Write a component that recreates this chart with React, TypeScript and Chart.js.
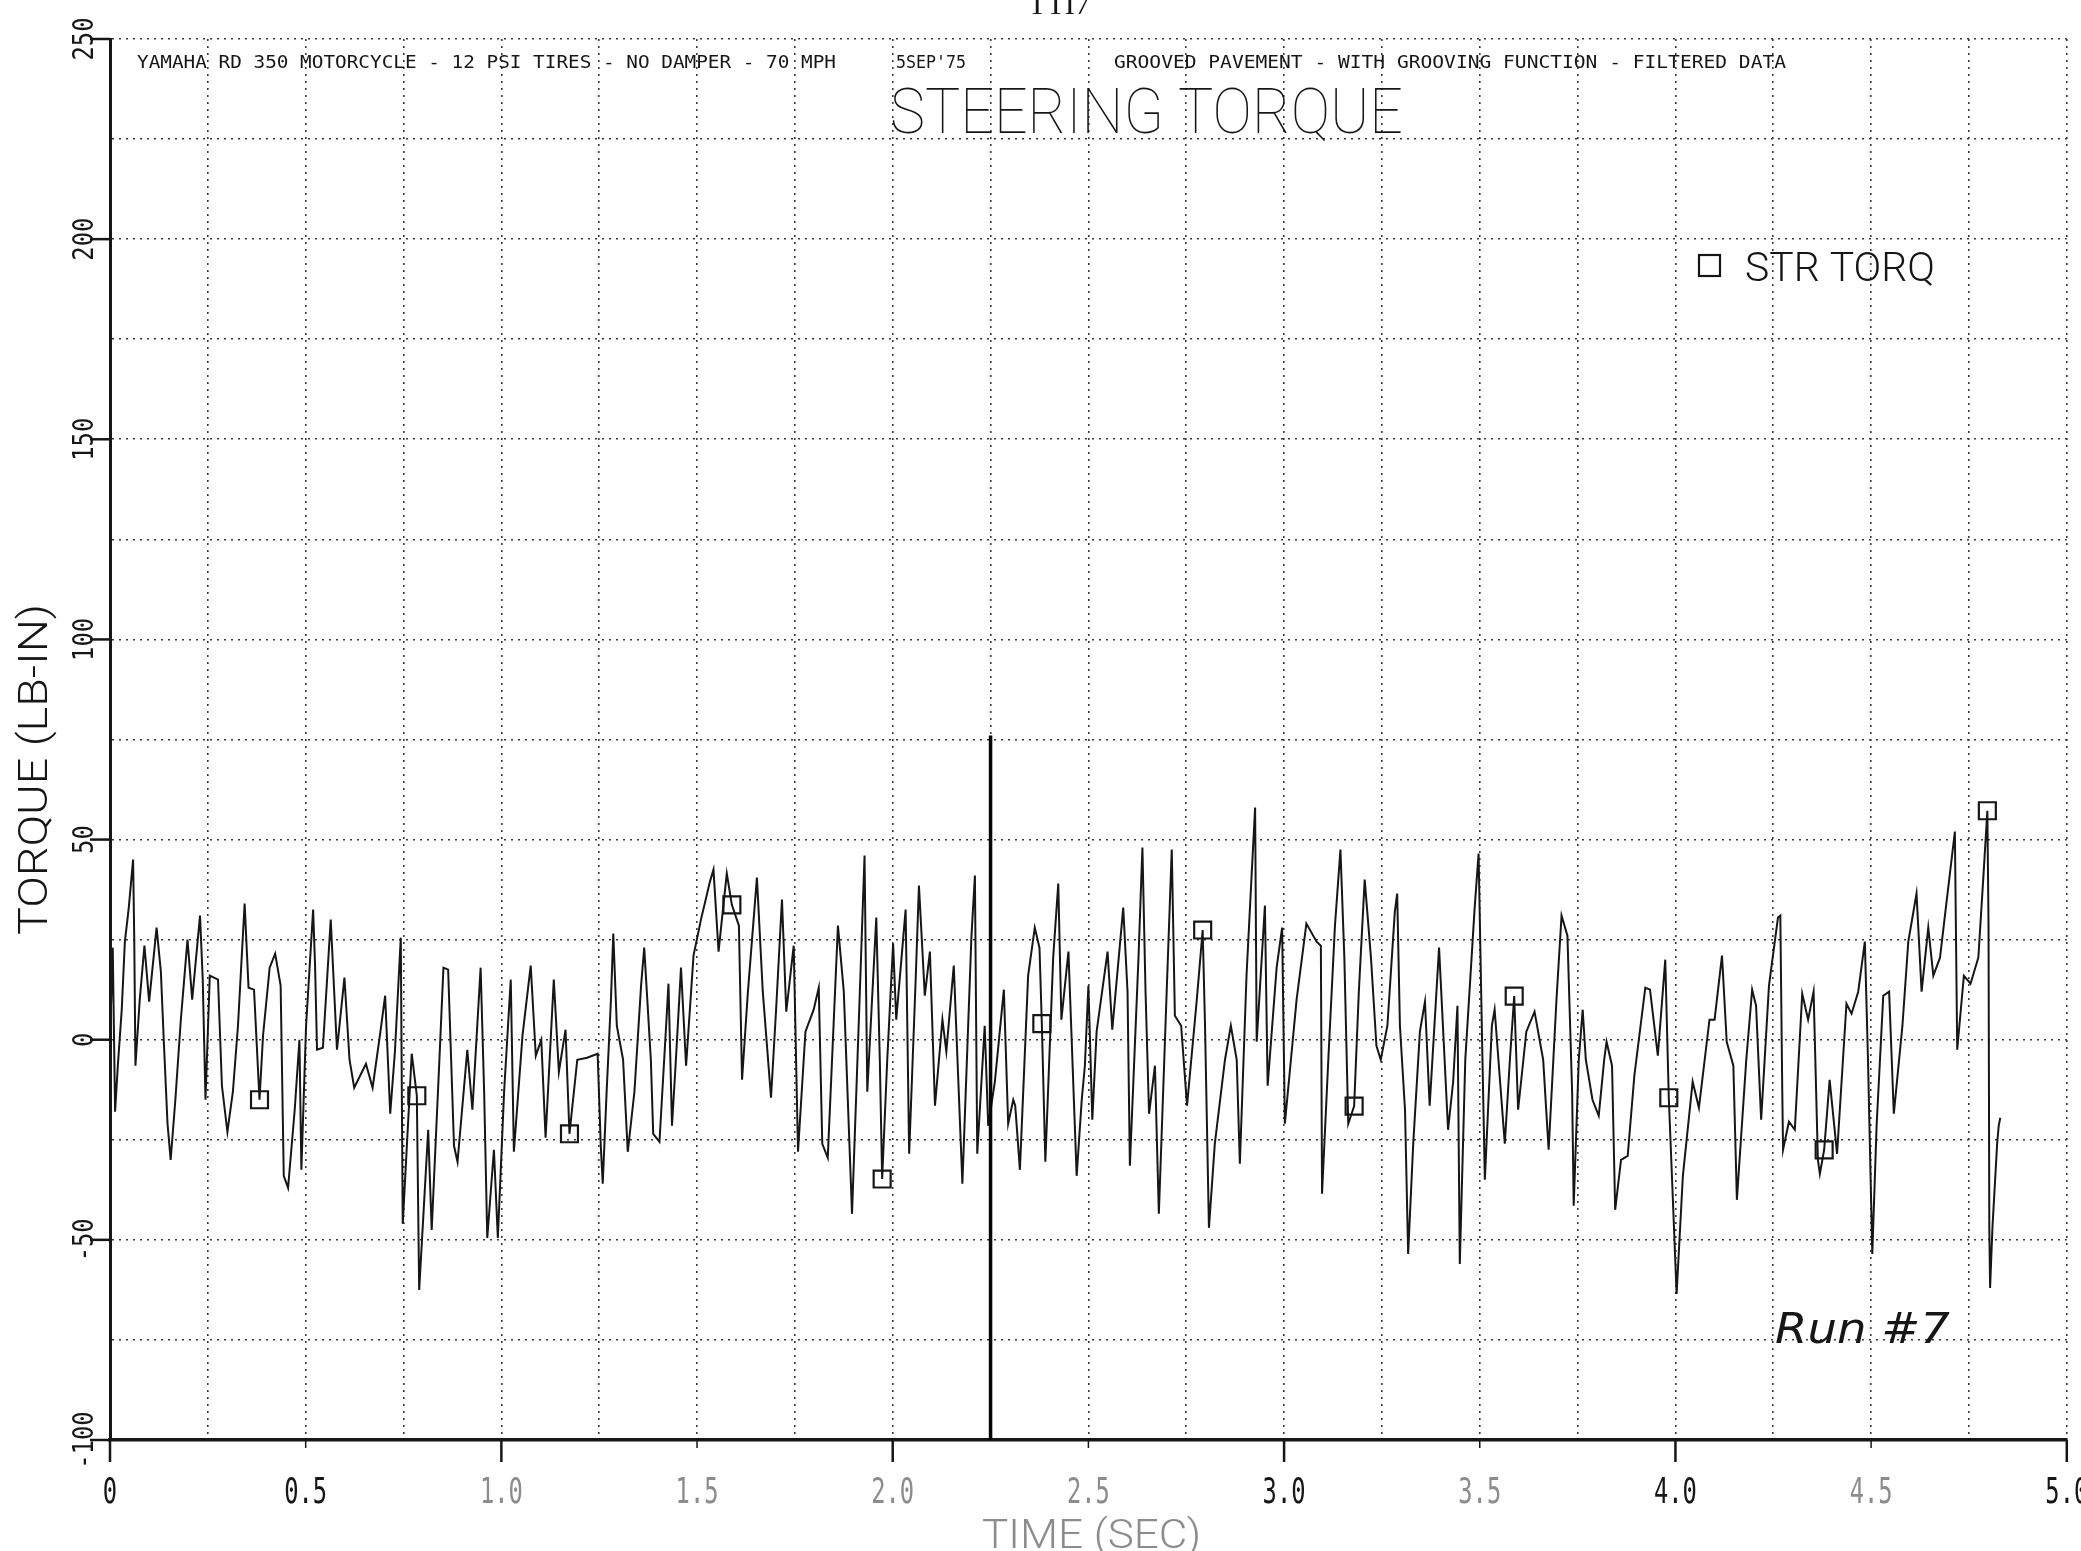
import { useEffect, useRef } from 'react';
import { Chart, registerables } from 'chart.js';

Chart.register(...registerables);

// ---------------- data ----------------
const timeSec = [
  0.000, 0.007, 0.013, 0.020, 0.030, 0.038, 0.048, 0.059, 0.062, 0.065,
  0.076, 0.088, 0.100, 0.119, 0.130, 0.138, 0.147, 0.155, 0.167, 0.181,
  0.198, 0.210, 0.230, 0.237, 0.244, 0.255, 0.276, 0.286, 0.300, 0.314,
  0.327, 0.344, 0.354, 0.368, 0.382, 0.391, 0.408, 0.422, 0.436, 0.444,
  0.455, 0.472, 0.484, 0.489, 0.501, 0.519, 0.524, 0.529, 0.544, 0.564,
  0.580, 0.599, 0.612, 0.624, 0.654, 0.671, 0.691, 0.703, 0.716, 0.728,
  0.743, 0.748, 0.771, 0.784, 0.790, 0.813, 0.822, 0.841, 0.852, 0.864,
  0.879, 0.888, 0.913, 0.926, 0.947, 0.956, 0.964, 0.981, 0.991, 1.007,
  1.024, 1.032, 1.054, 1.075, 1.088, 1.102, 1.113, 1.134, 1.147, 1.164,
  1.174, 1.194, 1.219,
  1.246, 1.254, 1.259, 1.269, 1.280, 1.286, 1.295, 1.311, 1.323, 1.340,
  1.357, 1.365, 1.382, 1.388, 1.404, 1.421, 1.427, 1.436, 1.446, 1.459,
  1.472, 1.491, 1.510, 1.533, 1.542, 1.555, 1.564, 1.576, 1.589, 1.607,
  1.615, 1.630, 1.653, 1.668, 1.689, 1.702, 1.717, 1.728, 1.747, 1.758,
  1.777, 1.798, 1.811, 1.820, 1.834, 1.860, 1.875, 1.896, 1.916, 1.928,
  1.935, 1.958, 1.967, 1.973, 1.986, 2.001, 2.009, 2.033, 2.042, 2.059,
  2.067, 2.082, 2.095, 2.108, 2.127, 2.137, 2.156, 2.178, 2.201, 2.210,
  2.216, 2.235, 2.244, 2.261, 2.284, 2.295, 2.308, 2.313, 2.325, 2.346,
  2.363, 2.375, 2.381, 2.390, 2.410, 2.423, 2.431, 2.449, 2.470, 2.483,
  2.491, 2.500, 2.510, 2.521, 2.549, 2.561, 2.589, 2.600, 2.606, 2.628,
  2.638, 2.646, 2.655, 2.670, 2.680, 2.700, 2.713, 2.721, 2.737, 2.752,
  2.777, 2.792, 2.798, 2.808, 2.823, 2.849, 2.864, 2.879, 2.887, 2.904,
  2.917, 2.926, 2.930, 2.951, 2.958, 2.981, 2.995, 3.002, 3.032, 3.057,
  3.083, 3.094, 3.097, 3.113, 3.130, 3.144, 3.154, 3.164, 3.179, 3.191,
  3.206, 3.222, 3.236, 3.247, 3.264, 3.283, 3.289, 3.296, 3.309, 3.317,
  3.330, 3.347, 3.360, 3.372, 3.396, 3.419, 3.432, 3.443, 3.449, 3.463,
  3.487, 3.497, 3.506, 3.513, 3.531, 3.538, 3.564, 3.577, 3.588, 3.598,
  3.619, 3.640, 3.662, 3.676, 3.696, 3.709, 3.724, 3.736, 3.740,
  3.753, 3.763, 3.771, 3.788, 3.804, 3.818, 3.824, 3.838, 3.846, 3.861,
  3.878, 3.895, 3.923, 3.935, 3.955, 3.974, 3.983, 3.991, 4.003, 4.019,
  4.044, 4.060, 4.087, 4.100, 4.119, 4.131, 4.148, 4.157, 4.181, 4.196,
  4.206, 4.219, 4.239, 4.262, 4.268, 4.273, 4.275, 4.290, 4.305, 4.324,
  4.339, 4.353, 4.364, 4.369, 4.380, 4.394, 4.413, 4.437, 4.450, 4.467,
  4.484, 4.492, 4.503, 4.514, 4.531, 4.546, 4.558, 4.580, 4.595, 4.616,
  4.629, 4.646, 4.659, 4.676, 4.691, 4.714, 4.720, 4.737, 4.754, 4.774,
  4.787, 4.797, 4.800, 4.802, 4.804, 4.810, 4.822, 4.826, 4.830,
];

const strTorq = [
  0, 23, -18, -6.5, 7.5, 24.5, 33, 45, 25, -6.5,
  10, 23.5, 9.5, 28, 17, -1.5, -21, -30, -15, 5,
  25, 10, 31, 15, -15, 16, 15, -11.5, -23, -13,
  3.5, 34, 13, 12.5, -15, 1, 18, 21.5, 13.5, -34,
  -37, -17.5, 0, -32.5, 3.5, 32.5, 18.5, -2.5, -2, 30,
  -2.5, 15.5, -5, -12, -6, -12, 2, 11, -18.5, -3,
  25.5, -46, -3.5, -14, -62.5, -22.5, -47.5, -6.5, 18, 17.5,
  -26.5, -30.5, -2.5, -17.5, 18, -13, -49.5, -27.5, -49.5, -13,
  15, -28, 1, 18.5, -4, 0, -24.5, 15, -8, 2.5,
  -23.5, -5, -4.5,
  -3.5, -26.5, -36, -13, 10, 26.5, 3.5, -5, -28, -13,
  13.5, 23, -5, -23.5, -25.5, 3.5, 14, -21.5, -5, 18,
  -6.5, 21, 30, 39.5, 42.5, 22, 30.5, 41.5, 33.7, 28.5,
  -10, 12, 40.5, 12, -14.5, 7.5, 35, 7, 23.5, -28,
  2, 7.5, 13, -26, -29.5, 28.5, 12, -43.5, 12, 46,
  -13, 30.5, -5, -34.8, -5, 24, 5, 32.5, -28.5, 16,
  38.5, 11, 22, -16.5, 5, -3, 18.5, -36, 25.5, 41,
  -28.5, 3.5, -21.5, -10.5, 12.5, -21, -15, -16.5, -32.5, 16,
  28, 23, 4, -30.5, 20.5, 39, 5, 22, -34, -15,
  -6.5, 13.5, -20, 2, 22, 2.5, 33, 12, -31.5, 20.5,
  48, 12, -18.5, -6.5, -43.5, 12, 47.5, 6, 3.5, -16.5,
  10, 27.4, 3.5, -47, -26, -5, 3.5, -5, -31, 16,
  41, 58, -0.5, 33.5, -11.5, 18, 28, -21, 10, 29,
  24.5, 23.5, -38.5, -5, 28.5, 47.5, 20.5, -21, -16.6, 12,
  40, 20.5, -1.5, -5, 3.5, 32, 36.5, 3.5, -17.5, -53.5,
  -26, 2, 9.5, -16.5, 23, -22.5, -10.5, 8.5, -56, -5,
  33, 46.5, -0.5, -35, 3.5, 7.5, -26, -5, 10.9, -17.5,
  2, 7, -5, -27.5, 10, 31, 26, -13, -41.5,
  -5, 7.5, -5, -15, -19, -5, -0.5, -6.5, -42.5, -30,
  -29, -9, 13, 12.5, -4, 20, -14.5, -34, -63.5, -34,
  -10.5, -17, 5, 5, 21, -0.5, -6.5, -40, -5, 12.5,
  8.5, -20, 13.5, 30.5, 31, -13, -27.5, -20.5, -22.5, 11.5,
  5, 12, -30, -33.5, -27.5, -10, -28.5, 9, 6.5, 12,
  24.5, -5, -53.5, -21.5, 11, 12, -18.5, 3.5, 24.5, 36.5,
  12, 28, 16, 20.5, 33, 52, -2.5, 16, 14, 20.5,
  41, 57.2, 28.5, -47, -62, -47, -26, -21.5, -19.5,
];

const markerTime = [0.382, 0.784, 1.174, 1.589, 1.973, 2.381, 2.792, 3.179, 3.588, 3.983, 4.380, 4.797];
const markerTorq = [-15, -14, -23.5, 33.7, -34.8, 4, 27.4, -16.6, 10.9, -14.5, -27.5, 57.2];

const cursorTime = [2.25, 2.25];
const cursorTorq = [-100, 76];

const xTickValues = [0, 0.5, 1, 1.5, 2, 2.5, 3, 3.5, 4, 4.5, 5];
const xTickLabels = ['0', '0.5', '1.0', '1.5', '2.0', '2.5', '3.0', '3.5', '4.0', '4.5', '5.0'];
const yTickValues = [250, 200, 150, 100, 50, 0, -50, -100];
const yTickLabels = ['250', '200', '150', '100', '50', '0', '-50', '-100'];

const header1 = 'YAMAHA RD 350 MOTORCYCLE - 12 PSI TIRES - NO DAMPER - 70 MPH';
const headerDate = "5SEP'75";
const header2 = 'GROOVED PAVEMENT - WITH GROOVING FUNCTION - FILTERED DATA';
const titleText = 'STEERING TORQUE';
const seriesName = 'STR TORQ';
const xTitle = 'TIME (SEC)';
const yTitle = 'TORQUE (LB-IN)';
const runNote = 'Run #7';
const pageMark = 'TTI7';

// ---------------- style ----------------
const W = 2081;
const H = 1551;
const INK = '#161616';
const FAINT = '#8c8c8c';
const xLabelFaint = [false, false, true, true, true, true, false, true, false, true, false];
const MONO = '"DejaVu Sans Mono", monospace';
const THIN = 'Roboto, "DejaVu Sans", sans-serif';

const annotate = {
  id: 'annotate',
  afterDraw(chart: any) {
    const { ctx, chartArea: ca, scales } = chart;
    const x = scales.x;
    const y = scales.y;
    ctx.save();
    ctx.fillStyle = INK;
    ctx.strokeStyle = INK;

    // y tick marks
    ctx.lineWidth = 2.5;
    yTickValues.forEach((v) => {
      const py = y.getPixelForValue(v);
      ctx.beginPath();
      ctx.moveTo(ca.left - 20, py);
      ctx.lineTo(ca.left, py);
      ctx.stroke();
    });
    // x tick marks
    xTickValues.forEach((t, i) => {
      const px = x.getPixelForValue(t);
      const len = i % 2 === 0 ? 22 : 8;
      ctx.lineWidth = i % 2 === 0 ? 2.5 : 1.5;
      ctx.beginPath();
      ctx.moveTo(px, ca.bottom);
      ctx.lineTo(px, ca.bottom + len);
      ctx.stroke();
    });

    // y tick labels (rotated, tall digits)
    ctx.font = `28px ${MONO}`;
    ctx.textAlign = 'center';
    ctx.textBaseline = 'middle';
    yTickValues.forEach((v, i) => {
      ctx.save();
      ctx.translate(86, y.getPixelForValue(v));
      ctx.rotate(-Math.PI / 2);
      ctx.scale(0.85, 1);
      ctx.fillText(yTickLabels[i], 0, 0);
      ctx.restore();
    });

    // x tick labels (tall narrow digits)
    ctx.font = `36px ${MONO}`;
    ctx.textAlign = 'center';
    ctx.textBaseline = 'alphabetic';
    xTickValues.forEach((t, i) => {
      ctx.save();
      ctx.fillStyle = xLabelFaint[i] ? FAINT : INK;
      ctx.translate(x.getPixelForValue(t), 1503);
      ctx.scale(0.66, 1);
      ctx.fillText(xTickLabels[i], 0, 0);
      ctx.restore();
    });

    const fit = (text: string, font: string, x0: number, x1: number, base: number, color = INK) => {
      ctx.font = font;
      ctx.fillStyle = color;
      const w = ctx.measureText(text).width;
      ctx.save();
      ctx.translate(x0, base);
      ctx.scale((x1 - x0) / w, 1);
      ctx.textAlign = 'left';
      ctx.textBaseline = 'alphabetic';
      ctx.fillText(text, 0, 0);
      ctx.restore();
    };

    fit(header1, `18px ${MONO}`, 137, 836, 68);
    fit(headerDate, `18px ${MONO}`, 896, 966, 68);
    fit(header2, `18px ${MONO}`, 1114, 1786, 68);
    fit(titleText, `100 63px ${THIN}`, 890, 1403, 133);
    fit(pageMark, `30px "Liberation Serif", serif`, 1028, 1090, 14);

    // legend
    ctx.lineWidth = 2.2;
    ctx.strokeRect(1699, 255, 21, 21);
    fit(seriesName, `300 41px ${THIN}`, 1745, 1935, 281);

    // axis titles
    fit(xTitle, `300 40px ${THIN}`, 982, 1201, 1548, FAINT);
    ctx.save();
    ctx.translate(47, 935);
    ctx.rotate(-Math.PI / 2);
    fit(yTitle, `300 40px ${THIN}`, 0, 331, 0);
    ctx.restore();

    // handwritten note
    fit(runNote, `italic 42px "DejaVu Sans", sans-serif`, 1775, 1950, 1343);

    ctx.restore();
  },
};

export default function App() {
  const ref = useRef<HTMLCanvasElement | null>(null);

  useEffect(() => {
    document.body.style.margin = '0';
    document.body.style.overflow = 'hidden';
    const canvas = ref.current;
    if (!canvas) return;

    const gridCommon = {
      color: '#3a3a3a',
      lineWidth: 1.6,
      drawTicks: false,
    };

    const chart = new Chart(canvas, {
      type: 'scatter',
      data: {
        datasets: [
          {
            label: seriesName,
            data: timeSec.map((t, i) => ({ x: t, y: strTorq[i] })),
            showLine: true,
            borderColor: INK,
            borderWidth: 2,
            pointRadius: 0,
            tension: 0,
            order: 2,
          },
          {
            label: 'markers',
            data: markerTime.map((t, i) => ({ x: t, y: markerTorq[i] })),
            showLine: false,
            pointStyle: 'rect',
            pointRadius: 12,
            pointBorderWidth: 2.2,
            pointBorderColor: INK,
            pointBackgroundColor: 'rgba(0,0,0,0)',
            order: 1,
          },
          {
            label: 'cursor',
            data: cursorTime.map((t, i) => ({ x: t, y: cursorTorq[i] })),
            showLine: true,
            borderColor: '#050505',
            borderWidth: 3.5,
            pointRadius: 0,
            order: 0,
          },
        ],
      },
      options: {
        animation: false,
        responsive: false,
        devicePixelRatio: 1,
        events: [],
        layout: { padding: { top: 39, right: 13, left: 0, bottom: 0 } },
        plugins: {
          legend: { display: false },
          tooltip: { enabled: false },
          title: { display: false },
        },
        scales: {
          x: {
            type: 'linear',
            min: 0,
            max: 5,
            ticks: { stepSize: 0.25, autoSkip: false, display: false },
            grid: gridCommon,
            border: { display: true, color: INK, width: 3.5, dash: [2, 5] },
            afterFit: (s: any) => {
              s.height = H - 1440;
              s.paddingLeft = 0;
              s.paddingRight = 0;
            },
          },
          y: {
            type: 'linear',
            min: -100,
            max: 250,
            ticks: { stepSize: 25, display: false },
            grid: gridCommon,
            border: { display: true, color: INK, width: 3, dash: [2, 5] },
            afterFit: (s: any) => {
              s.width = 110;
            },
          },
        },
      },
      plugins: [annotate],
    } as any);

    return () => chart.destroy();
  }, []);

  return (
    <div style={{ width: W, height: H, background: '#fff', position: 'relative' }}>
      <canvas ref={ref} width={W} height={H} style={{ display: 'block', width: W, height: H }} />
    </div>
  );
}
